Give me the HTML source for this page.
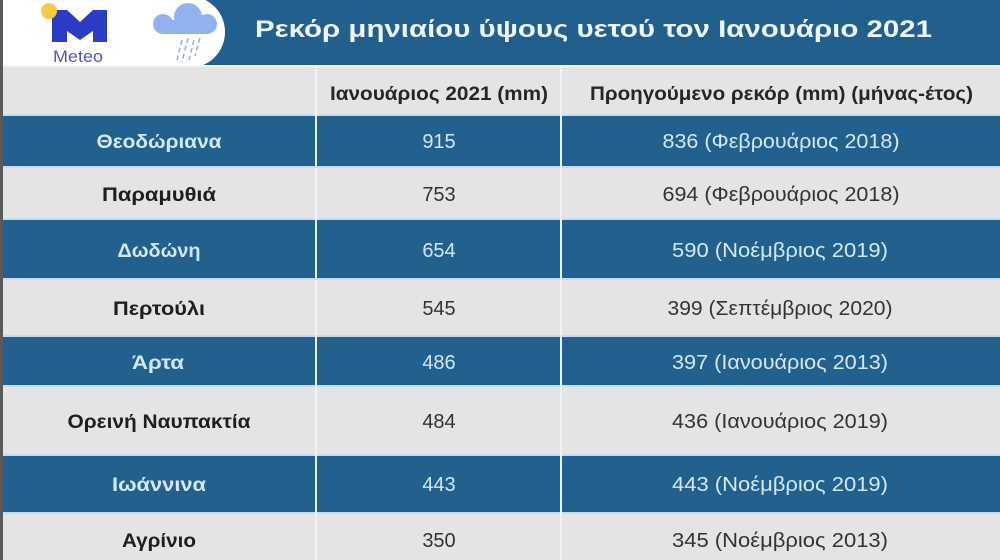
<!DOCTYPE html>
<html>
<head>
<meta charset="utf-8">
<style>
html,body{margin:0;padding:0;background:#e4e4e4;}
svg{display:block;}
text{font-family:"Liberation Sans","DejaVu Sans",sans-serif;}
</style>
</head>
<body>
<svg width="1000" height="560" viewBox="0 0 1000 560" xmlns="http://www.w3.org/2000/svg">
  <!-- base -->
  <rect x="0" y="0" width="1000" height="560" fill="#e4e4e4"/>
  <!-- top band -->
  <rect x="0" y="0" width="1000" height="66" fill="#215f8d"/>
  <!-- white logo area -->
  <rect x="0" y="0" width="190" height="66" fill="#ffffff"/>
  <circle cx="189" cy="32" r="36" fill="#ffffff"/>
  <!-- header row -->
  <rect x="0" y="65" width="1000" height="2" fill="#f3f3f3"/>
  <rect x="0" y="67" width="1000" height="47" fill="#e4e4e4"/>

  <!-- rows -->
  <g fill="#c6ddef">
    <rect x="0" y="114" width="1000" height="2"/>
    <rect x="0" y="166" width="1000" height="2"/>
    <rect x="0" y="218" width="1000" height="2"/>
    <rect x="0" y="278" width="1000" height="2"/>
    <rect x="0" y="335" width="1000" height="2"/>
    <rect x="0" y="385" width="1000" height="2"/>
    <rect x="0" y="454" width="1000" height="2"/>
    <rect x="0" y="512" width="1000" height="2"/>
  </g>
  <g fill="#22618e">
    <rect x="0" y="116" width="1000" height="50"/>
    <rect x="0" y="220" width="1000" height="58"/>
    <rect x="0" y="337" width="1000" height="48"/>
    <rect x="0" y="456" width="1000" height="56"/>
  </g>
  <g fill="#e4e4e4">
    <rect x="0" y="168" width="1000" height="50"/>
    <rect x="0" y="280" width="1000" height="55"/>
    <rect x="0" y="387" width="1000" height="67"/>
    <rect x="0" y="514" width="1000" height="46"/>
  </g>

  <!-- vertical dividers -->
  <rect x="315" y="67" width="2" height="493" fill="#eef3f8"/>
  <rect x="560" y="67" width="2" height="493" fill="#eef3f8"/>
  <!-- left border -->
  <rect x="0" y="0" width="3" height="560" fill="#5a5a5a"/>

  <!-- logo -->
  <path d="M52 10 H67 L80 22 L93 10 H107 V42 H93 V31 L80 40 L67 31 V42 H52 Z" fill="#2b3cc4"/>
  <circle cx="49" cy="11" r="8" fill="#f6c945"/>
  <text x="53" y="62" font-size="17" fill="#5257bf" textLength="50" lengthAdjust="spacingAndGlyphs">Meteo</text>

  <!-- cloud -->
  <g fill="#91b2ee">
    <circle cx="163" cy="24" r="10"/>
    <circle cx="188" cy="17" r="14"/>
    <circle cx="207" cy="24" r="10"/>
    <rect x="163" y="20" width="44" height="14"/>
  </g>
  <g stroke="#a3b1cb" stroke-width="1.6" stroke-dasharray="5 3">
    <line x1="182" y1="40" x2="177" y2="60"/>
    <line x1="188" y1="38" x2="182" y2="62"/>
    <line x1="194" y1="40" x2="189" y2="60"/>
    <line x1="200" y1="38" x2="195" y2="56"/>
  </g>

  <!-- title -->
  <text x="255" y="37" font-size="24" font-weight="bold" fill="#eef5fb" textLength="677" lengthAdjust="spacingAndGlyphs">Ρεκόρ μηνιαίου ύψους υετού τον Ιανουάριο 2021</text>

  <!-- header -->
  <text x="330" y="100" font-size="19" font-weight="bold" fill="#262626" textLength="218" lengthAdjust="spacingAndGlyphs">Ιανουάριος 2021 (mm)</text>
  <text x="590" y="100" font-size="19" font-weight="bold" fill="#262626" textLength="383" lengthAdjust="spacingAndGlyphs">Προηγούμενο ρεκόρ (mm) (μήνας-έτος)</text>

  <!-- col 1 -->
  <g font-size="19" font-weight="bold" text-anchor="middle">
    <text x="159" y="148" fill="#d3e8f7" textLength="125" lengthAdjust="spacingAndGlyphs">Θεοδώριανα</text>
    <text x="159" y="201" fill="#1e1e1e" textLength="114" lengthAdjust="spacingAndGlyphs">Παραμυθιά</text>
    <text x="159" y="257" fill="#d3e8f7" textLength="83" lengthAdjust="spacingAndGlyphs">Δωδώνη</text>
    <text x="159" y="315" fill="#1e1e1e" textLength="92" lengthAdjust="spacingAndGlyphs">Περτούλι</text>
    <text x="158" y="369" fill="#d3e8f7" textLength="52" lengthAdjust="spacingAndGlyphs">Άρτα</text>
    <text x="159" y="428" fill="#1e1e1e" textLength="183" lengthAdjust="spacingAndGlyphs">Ορεινή Ναυπακτία</text>
    <text x="159" y="491" fill="#d3e8f7" textLength="94" lengthAdjust="spacingAndGlyphs">Ιωάννινα</text>
    <text x="159" y="547" fill="#1e1e1e" textLength="74" lengthAdjust="spacingAndGlyphs">Αγρίνιο</text>
  </g>

  <!-- col 2 -->
  <g font-size="20" text-anchor="middle">
    <text x="439" y="148" fill="#d3e8f7">915</text>
    <text x="439" y="201" fill="#333333">753</text>
    <text x="439" y="257" fill="#d3e8f7">654</text>
    <text x="439" y="315" fill="#333333">545</text>
    <text x="439" y="369" fill="#d3e8f7">486</text>
    <text x="439" y="428" fill="#333333">484</text>
    <text x="439" y="491" fill="#d3e8f7">443</text>
    <text x="439" y="547" fill="#333333">350</text>
  </g>

  <!-- col 3 -->
  <g font-size="20" text-anchor="middle">
    <text x="781" y="148" fill="#d3e8f7" textLength="237" lengthAdjust="spacingAndGlyphs">836 (Φεβρουάριος 2018)</text>
    <text x="781" y="201" fill="#333333" textLength="237" lengthAdjust="spacingAndGlyphs">694 (Φεβρουάριος 2018)</text>
    <text x="780" y="257" fill="#d3e8f7" textLength="216" lengthAdjust="spacingAndGlyphs">590 (Νοέμβριος 2019)</text>
    <text x="780" y="315" fill="#333333" textLength="225" lengthAdjust="spacingAndGlyphs">399 (Σεπτέμβριος 2020)</text>
    <text x="780" y="369" fill="#d3e8f7" textLength="216" lengthAdjust="spacingAndGlyphs">397 (Ιανουάριος 2013)</text>
    <text x="780" y="428" fill="#333333" textLength="216" lengthAdjust="spacingAndGlyphs">436 (Ιανουάριος 2019)</text>
    <text x="780" y="491" fill="#d3e8f7" textLength="216" lengthAdjust="spacingAndGlyphs">443 (Νοέμβριος 2019)</text>
    <text x="780" y="547" fill="#333333" textLength="216" lengthAdjust="spacingAndGlyphs">345 (Νοέμβριος 2013)</text>
  </g>
</svg>
</body>
</html>
